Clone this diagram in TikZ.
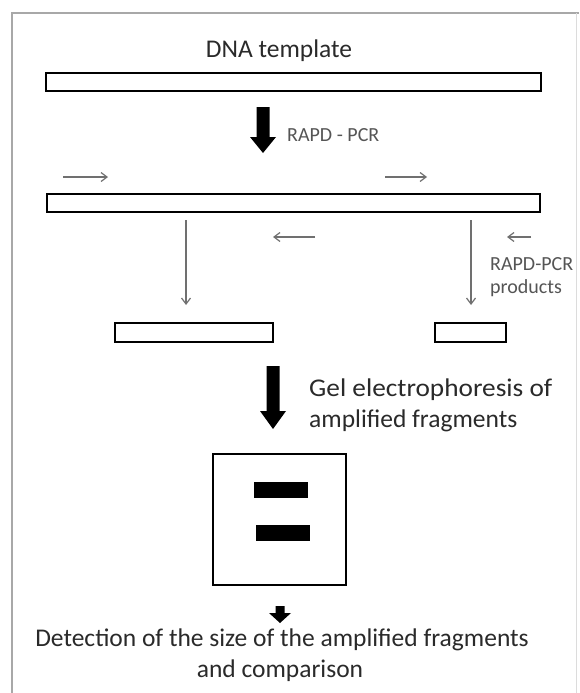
\documentclass[tikz,border=0pt]{standalone}
\usepackage{fontspec}
\setmainfont{Carlito}
\newfontfamily\widefont[FakeStretch=1.07]{Carlito}
\usetikzlibrary{arrows.meta}
\definecolor{txt}{HTML}{2A2A2A}
\definecolor{lbl}{HTML}{555555}
\definecolor{thin}{HTML}{707070}
\definecolor{frame}{HTML}{A8A8A8}
\begin{document}
\begin{tikzpicture}[x=1pt,y=-1pt,
  bar/.style={draw=black, line width=2.8pt, fill=white, inner sep=0pt},
  band/.style={fill=black, inner sep=0pt},
  thinarrow/.style={draw=thin, line width=1.2pt, -{Straight Barb[length=6pt,width=9pt]}},
  big/.style={text=txt, font=\fontsize{25.5}{31}\selectfont, inner sep=0pt},
  small/.style={text=lbl, font=\fontsize{20}{24}\selectfont, inner sep=0pt},
  thick/.style={fill=black}]
\useasboundingbox (0,0) rectangle (579,693);
\fill[white] (0,0) rectangle (579,693);
% frame
\draw[frame, line width=2pt] (12,700) -- (12,13) -- (579,13);
\draw[frame!40, line width=1pt] (576,13) -- (576,700);

% texts
\node[big, anchor=base] (t1) at (279,58) {DNA template};
\node[small, anchor=base west] (t2) at (287,141) {RAPD - PCR};
\node[small, anchor=base west] (t3) at (490,270) {RAPD-PCR};
\node[small, anchor=base west] (t4) at (490,293) {products};
\node[big, anchor=base west] (t5) at (309,396) {\widefont Gel electrophoresis of};
\node[big, anchor=base west] (t6) at (309,427) {amplified fragments};
\node[big, anchor=base] (t7) at (282,646) {Detection of the size of the amplified fragments};
\node[big, anchor=base] (t8) at (280,677) {and comparison};

% bars
\node[bar, minimum width=495pt, minimum height=18pt] (bar1) at (293.5,82) {};
\node[bar, minimum width=493pt, minimum height=18pt] (bar2) at (293.5,203) {};
\node[bar, minimum width=158pt, minimum height=19pt] (frag1) at (194,332.5) {};
\node[bar, minimum width=71pt, minimum height=19pt] (frag2) at (470.5,332.5) {};

% gel
\node[bar, minimum width=133pt, minimum height=131pt] (gel) at (279.5,519.5) {};
\node[band, minimum width=54pt, minimum height=16pt] (b1) at (281,490) {};
\node[band, minimum width=54pt, minimum height=16pt] (b2) at (283,533) {};

% thick arrows
\fill[thick] (256.5,107) -- (269.5,107) -- (269.5,137) -- (276,137) -- (263,153) -- (250,137) -- (256.5,137) -- cycle;
\fill[thick] (266.5,366) -- (279.5,366) -- (279.5,411) -- (286,411) -- (273,429) -- (260,411) -- (266.5,411) -- cycle;
\fill[thick] (275.5,606) -- (284.5,606) -- (284.5,613) -- (291,613) -- (280,623) -- (269,613) -- (275.5,613) -- cycle;

% primers
\coordinate (p1s) at (63,177); \coordinate (p1e) at (108,177);
\coordinate (p2s) at (385,177); \coordinate (p2e) at (427,177);
\coordinate (p3s) at (315,237); \coordinate (p3e) at (273,237);
\coordinate (p4s) at (531,237); \coordinate (p4e) at (507,237);
\draw[thinarrow] (p1s) -- (p1e);
\draw[thinarrow] (p2s) -- (p2e);
\draw[thinarrow] (p3s) -- (p3e);
\draw[thinarrow] (p4s) -- (p4e);

% products arrows
\coordinate (v1s) at (186,220); \coordinate (v1e) at (186,305);
\coordinate (v2s) at (471,220); \coordinate (v2e) at (471,305);
\draw[thinarrow] (v1s) -- (v1e);
\draw[thinarrow] (v2s) -- (v2e);
\end{tikzpicture}
\end{document}
